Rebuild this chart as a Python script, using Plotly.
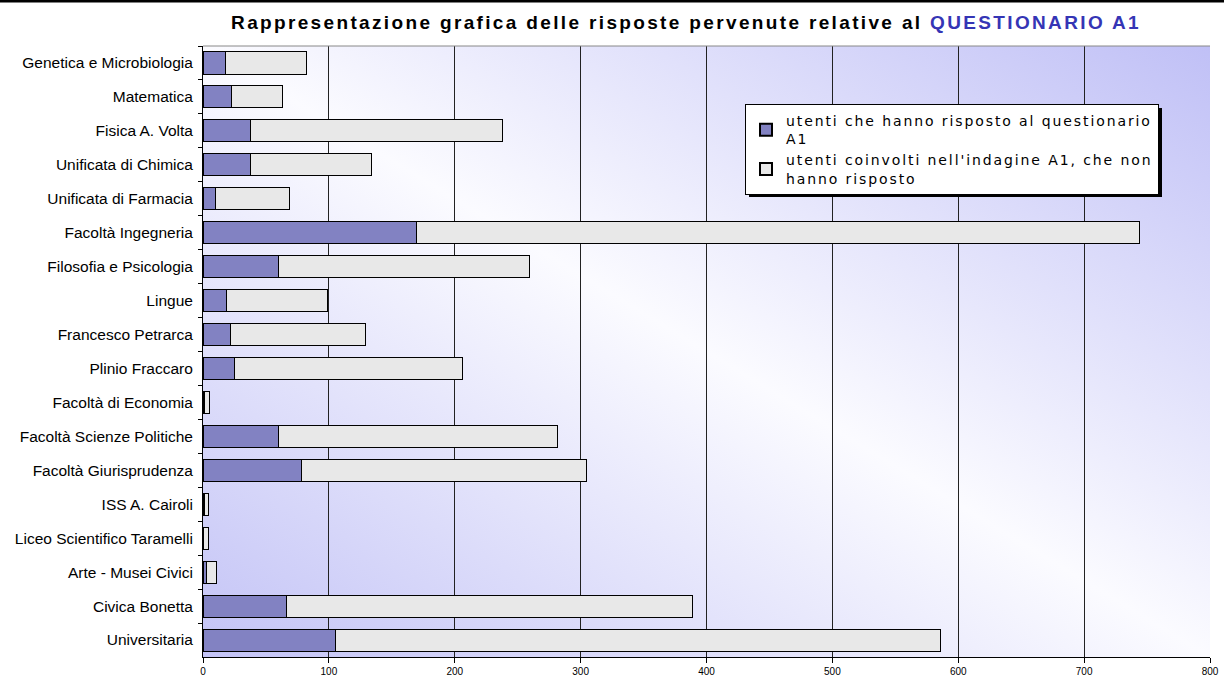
import base64
import plotly.graph_objects as go

categories = [
    "Genetica e Microbiologia", "Matematica", "Fisica A. Volta", "Unificata di Chimica",
    "Unificata di Farmacia", "Facoltà Ingegneria", "Filosofia e Psicologia", "Lingue",
    "Francesco Petrarca", "Plinio Fraccaro", "Facoltà di Economia", "Facoltà Scienze Politiche",
    "Facoltà Giurisprudenza", "ISS A. Cairoli", "Liceo Scientifico Taramelli",
    "Arte - Musei Civici", "Civica Bonetta", "Universitaria",
]
risposto = [18, 23, 38, 38, 10, 170, 60, 19, 22, 25, 1, 60, 78, 1, 0, 3, 66, 105]
non_risposto = [64, 40, 200, 96, 59, 574, 199, 80, 107, 181, 4, 222, 227, 3, 4, 8, 323, 481]
x_ticks = [0, 100, 200, 300, 400, 500, 600, 700, 800]

W, H = 1224, 679
L, R, T, B = 203, 14, 46, 22
PW, PH = W - L - R, H - T - B

svg = ("<svg xmlns='http://www.w3.org/2000/svg' width='200' height='200' "
       "viewBox='0 0 200 200' preserveAspectRatio='none'><defs>"
       "<linearGradient id='g' x1='0' y1='1' x2='1' y2='0'>"
       "<stop offset='0' stop-color='#c3c3f6'/><stop offset='0.5' stop-color='#fbfbff'/>"
       "<stop offset='1' stop-color='#c0c0f6'/></linearGradient></defs>"
       "<rect width='200' height='200' fill='url(#g)'/></svg>")
bg_src = "data:image/svg+xml;base64," + base64.b64encode(svg.encode()).decode()


def spaced(line, px):
    return "<span style='letter-spacing:%spx'>%s</span>" % (px, line)


def px_x(px):
    return (px - L) / PW


def px_y(py):
    return (H - B - py) / PH


leg_sp = 1.9
name1 = spaced("utenti che hanno risposto al questionario", leg_sp) + "<br>" + spaced("A1", leg_sp)
name2 = spaced("utenti coinvolti nell'indagine A1, che non", leg_sp) + "<br>" + spaced("hanno risposto", leg_sp)

fig = go.Figure()
fig.add_trace(go.Bar(
    y=categories, x=risposto, orientation="h", name=name1,
    marker=dict(color="#8282c2", line=dict(color="#000000", width=1)),
))
fig.add_trace(go.Bar(
    y=categories, x=non_risposto, orientation="h", name=name2,
    marker=dict(color="#e8e8e8", line=dict(color="#000000", width=1)),
))

title_sp = 2.35
fig.update_layout(
    width=W, height=H,
    margin=dict(l=L, r=R, t=T, b=B, pad=0),
    barmode="stack", bargap=0.35,
    paper_bgcolor="white", plot_bgcolor="rgba(0,0,0,0)",
    font=dict(family="Liberation Sans, Arial, sans-serif", color="black"),
    title=dict(
        text="<b>" + spaced("Rappresentazione grafica delle risposte pervenute relative al ", title_sp)
             + "<span style='color:#3535b5;letter-spacing:%spx'>QUESTIONARIO A1</span></b>" % title_sp,
        x=686 / W, xanchor="center", xref="container",
        y=1 - 22 / H, yanchor="middle", yref="container",
        font=dict(size=19, family="Liberation Sans, Arial, sans-serif"),
    ),
    xaxis=dict(
        range=[0, 800], tickvals=x_ticks, ticktext=[str(v) for v in x_ticks],
        showgrid=True, gridcolor="#222222", gridwidth=1,
        showline=True, linecolor="black", linewidth=1,
        ticks="outside", ticklen=5, tickcolor="black",
        tickfont=dict(size=10), zeroline=False, automargin=False,
    ),
    yaxis=dict(
        autorange="reversed", type="category",
        showline=True, linecolor="black", linewidth=1,
        ticks="outside", ticklen=4, tickcolor="black", tickson="boundaries",
        tickfont=dict(size=15.5), showgrid=False, automargin=False,
        ticklabelstandoff=6,
    ),
    legend=dict(
        x=px_x(745), y=px_y(104),
        xanchor="left", yanchor="top", traceorder="normal",
        bgcolor="white", bordercolor="black", borderwidth=1,
        font=dict(family="DejaVu Sans, Verdana, sans-serif", size=14),
        itemsizing="constant", tracegroupgap=0,
    ),
    images=[dict(
        source=bg_src, xref="paper", yref="paper", x=0, y=1, sizex=1, sizey=1,
        sizing="stretch", layer="below", xanchor="left", yanchor="top",
    )],
    shapes=[
        dict(type="line", xref="paper", yref="paper", x0=0, x1=1, y0=1, y1=1,
             line=dict(color="#888888", width=1)),
        dict(type="rect", xref="paper", yref="paper", x0=px_x(0), x1=px_x(W),
             y0=px_y(2.5), y1=px_y(0), line=dict(width=0), fillcolor="black", layer="above"),
        dict(type="rect", xref="paper", yref="paper", x0=px_x(749), x1=px_x(1162),
             y0=px_y(197), y1=px_y(108), line=dict(width=0), fillcolor="black", layer="above"),
    ],
    showlegend=True,
)

fig.write_html("out.html", config={"displayModeBar": False},
               post_script="document.body.style.margin='0';")
